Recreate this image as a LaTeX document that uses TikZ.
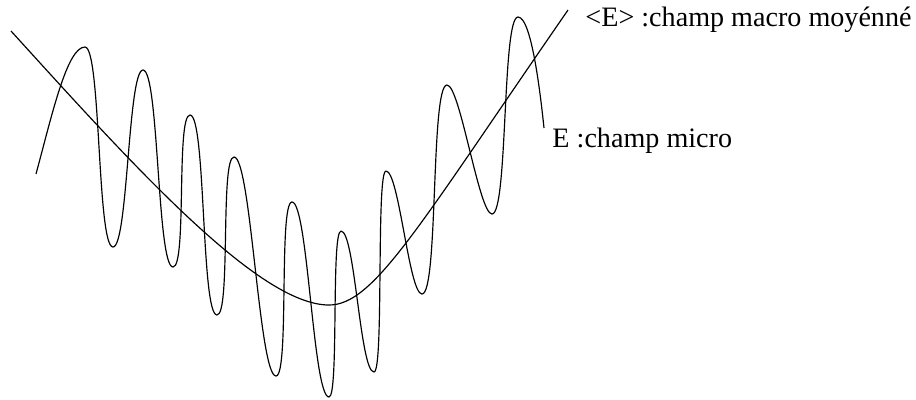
\documentclass[tikz,border=0pt]{standalone}
\usepackage{fontspec}
\setmainfont{Liberation Serif}
\usetikzlibrary{positioning}

\begin{document}
\begin{tikzpicture}[
  x=0.015cm, y=-0.015cm,
  curve/.style={line width=0.5pt, line join=round},
  lbl/.style={anchor=base west, inner sep=0pt, font=\fontsize{12}{14}\selectfont}
]
\useasboundingbox (0,0) rectangle (916,399);

% labels
\node[lbl] (macro) at (585,26) {<E> :champ macro moyénné};
\node[lbl] (micro) at (552,147) {E :champ micro};

% averaged (macro) field
\coordinate (macroA) at (11,31);
\coordinate (macroMin) at (329,305);
\coordinate (macroB) at (568,10);
\draw[curve] (macroA) .. controls (131,163) and (258,305) .. (macroMin)
  .. controls (374,305) and (418,227) .. (macroB);

% micro field, peaks and troughs
\coordinate (microA) at (36,174);
\coordinate (microB) at (544,128);
\draw[curve] (microA) .. controls (52,115) and (67,47) .. (85,47)
  \foreach \px/\py/\c in {113/247/16, 143/70/15, 173/267/16, 190/115/14,
      217/315/16, 234/157/14, 276/376/17, 292/202/13.5, 329/397/16, 341/231/10,
      374/372/14, 386/171/10, 422/294/13, 447/85/16.5, 492/214/13, 518/17/16}
    { .. controls +(\c,0) and +(-\c,0) .. (\px,\py) }
  .. controls (532,17) and (541,100) .. (microB);
\end{tikzpicture}
\end{document}
